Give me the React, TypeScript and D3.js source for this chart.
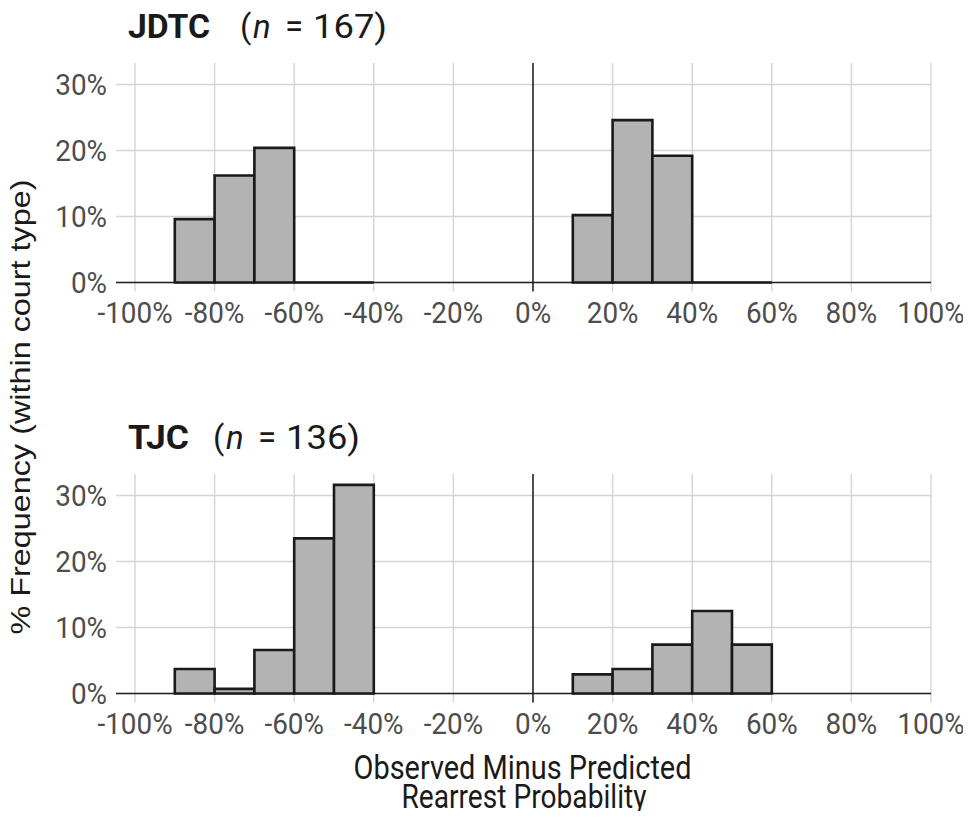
import * as d3 from "d3";

// bin edges shared by both panels (proportions)
const leftBins = [-0.9, -0.8, -0.7, -0.6, -0.5];
const rightBins = [0.1, 0.2, 0.3, 0.4, 0.5];
const binWidth = 0.1;

// % frequency within court type
const jdtcLeft = [9.6, 16.2, 20.4, 0, 0];
const jdtcRight = [10.2, 24.6, 19.2, 0, 0];
const tjcLeft = [3.7, 0.7, 6.6, 23.5, 31.6];
const tjcRight = [2.9, 3.7, 7.4, 12.5, 7.4];

const xTicks = [-1, -0.8, -0.6, -0.4, -0.2, 0, 0.2, 0.4, 0.6, 0.8, 1];
const yTicks = [0, 10, 20, 30];

const panels = [
  { court: "JDTC", n: 167, left: jdtcLeft, right: jdtcRight, top: 63, courtW: 82, parenX: 240 },
  { court: "TJC", n: 136, left: tjcLeft, right: tjcRight, top: 474, courtW: 61, parenX: 213 },
];

const W = 971;
const H = 819;
const panelLeft = 116;
const panelRight = 931;
const panelH = 219.5;
const cond = 0.93; // squeeze Roboto toward a condensed face

const x = d3.scaleLinear().domain([-1, 1]).range([135, 931]);
const pct = (v) => Math.round(v * 100) + "%"; // plain hyphen, like the original

function Panel({ p }) {
  const y = d3
    .scaleLinear()
    .domain([0, 33.25])
    .range([p.top + panelH, p.top]);
  const base = y(0);
  const bars = [
    ...leftBins.map((b, i) => ({ x0: b, v: p.left[i] })),
    ...rightBins.map((b, i) => ({ x0: b, v: p.right[i] })),
  ];
  const tb = p.top - 25; // title baseline
  const px = p.parenX;

  return (
    <g fontFamily="Roboto">
      {/* title */}
      <g fontSize={33} fill="#1a1a1a">
        <text x={128} y={tb} fontWeight="bold" textLength={p.courtW} lengthAdjust="spacingAndGlyphs">
          {p.court}
        </text>
        <text x={px} y={tb}>(</text>
        <text x={px + 13} y={tb} fontStyle="italic">n</text>
        <text x={px + 45} y={tb}>=</text>
        <text x={px + 73} y={tb} textLength={74} lengthAdjust="spacingAndGlyphs">
          {p.n + ")"}
        </text>
      </g>

      {/* horizontal grid */}
      {yTicks.map((t) => (
        <line
          key={"h" + t}
          x1={panelLeft}
          x2={panelRight}
          y1={y(t)}
          y2={y(t)}
          stroke="#d4d4d4"
          strokeWidth={1.4}
        />
      ))}
      {/* vertical grid */}
      {xTicks.map((t) => (
        <line
          key={"v" + t}
          x1={x(t)}
          x2={x(t)}
          y1={p.top}
          y2={base + 9}
          stroke={t === 0 ? "#222" : "#d4d4d4"}
          strokeWidth={t === 0 ? 1.6 : 1.4}
        />
      ))}

      <line
        x1={panelLeft}
        x2={panelRight}
        y1={base}
        y2={base}
        stroke="#222"
        strokeWidth={1.6}
      />

      {bars.map((b, i) => {
        const x0 = x(b.x0);
        const x1 = x(b.x0 + binWidth);
        const yt = y(b.v);
        return (
          <path
            key={i}
            d={`M${x0},${base}V${yt}H${x1}V${base}Z`}
            fill="#b3b3b3"
            stroke="#1a1a1a"
            strokeWidth={2.6}
            strokeLinejoin="miter"
          />
        );
      })}

      {/* y tick labels */}
      {yTicks.map((t) => (
        <g key={"yl" + t} transform={`translate(107,${y(t)}) scale(${cond},1)`}>
          <text
            textAnchor="end"
            dominantBaseline="central"
            fontSize={30}
            fill="#4d4d4d"
          >
            {t + "%"}
          </text>
        </g>
      ))}
      {/* x tick labels */}
      {xTicks.map((t) => (
        <g key={"xl" + t} transform={`translate(${x(t)},${base + 30}) scale(${cond},1)`}>
          <text
            textAnchor="middle"
            dominantBaseline="central"
            fontSize={30}
            fill="#4d4d4d"
          >
            {pct(t)}
          </text>
        </g>
      ))}
    </g>
  );
}

export default function App() {
  return (
    <svg width={W} height={H} style={{ display: "block", margin: "-8px" }}>
      <rect width={W} height={H} fill="#fff" />
      {panels.map((p) => (
        <Panel key={p.court} p={p} />
      ))}
      <text
        transform="translate(30,407) rotate(-90)"
        textAnchor="middle"
        fontFamily="Liberation Sans"
        fontSize={28}
        fill="#1a1a1a"
        textLength={455}
        lengthAdjust="spacingAndGlyphs"
      >
        % Frequency (within court type)
      </text>
      <text
        x={522.5}
        y={779}
        textAnchor="middle"
        fontFamily="Roboto"
        fontSize={34}
        fill="#1a1a1a"
        textLength={338}
        lengthAdjust="spacingAndGlyphs"
      >
        Observed Minus Predicted
      </text>
      <text
        x={524}
        y={808}
        textAnchor="middle"
        fontFamily="Roboto"
        fontSize={34}
        fill="#1a1a1a"
        textLength={245}
        lengthAdjust="spacingAndGlyphs"
      >
        Rearrest Probability
      </text>
    </svg>
  );
}
